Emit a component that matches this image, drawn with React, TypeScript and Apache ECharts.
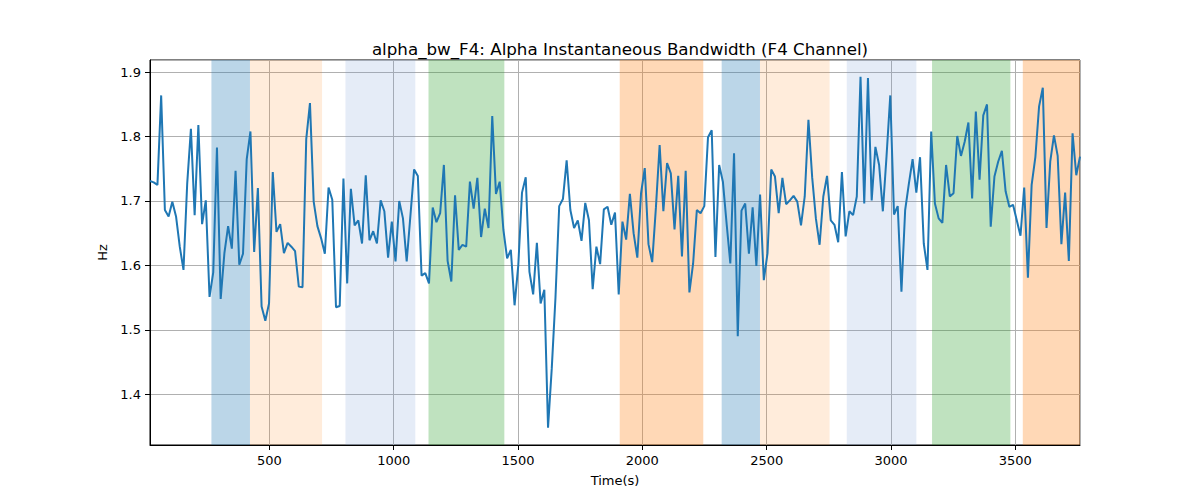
import React, { useEffect, useRef } from "react";
import * as echarts from "echarts";

const TITLE = "alpha_bw_F4: Alpha Instantaneous Bandwidth (F4 Channel)";
const X_NAME = "Time(s)";
const Y_NAME = "Hz";

// Sampling grid of the series (seconds)
const T_START = 20;
const T_END = 3760;

// Hz values, in time order
const values: number[] = [
  1.731, 1.729, 1.725, 1.864, 1.686, 1.676, 1.699, 1.676, 1.629, 1.593,
  1.727, 1.812, 1.678, 1.818, 1.664, 1.701, 1.551, 1.589, 1.783, 1.548,
  1.619, 1.661, 1.626, 1.747, 1.601, 1.618, 1.765, 1.808, 1.621, 1.72,
  1.536, 1.514, 1.541, 1.745, 1.652, 1.664, 1.619, 1.635, 1.629, 1.622,
  1.567, 1.566, 1.796, 1.852, 1.699, 1.661, 1.642, 1.618, 1.721, 1.702,
  1.535, 1.537,
  1.735, 1.572, 1.719, 1.662, 1.67, 1.634, 1.74, 1.639, 1.653, 1.634,
  1.701, 1.684, 1.612, 1.668, 1.606, 1.7, 1.673, 1.606, 1.677, 1.749,
  1.739, 1.584, 1.588, 1.572, 1.69, 1.667, 1.681, 1.756, 1.607, 1.575,
  1.709, 1.624, 1.632, 1.629, 1.73, 1.688, 1.736, 1.644, 1.688, 1.658,
  1.832, 1.711, 1.73, 1.655, 1.611, 1.624, 1.538, 1.6, 1.713, 1.737,
  1.59, 1.555, 1.635, 1.541, 1.562, 1.348, 1.44, 1.55, 1.692, 1.703,
  1.763, 1.686, 1.658, 1.67, 1.638, 1.697, 1.67, 1.563, 1.629, 1.602,
  1.687, 1.691, 1.663, 1.682, 1.555, 1.668, 1.64, 1.711, 1.65, 1.612,
  1.712, 1.751, 1.633, 1.605, 1.69, 1.787, 1.684, 1.759, 1.743, 1.656,
  1.739, 1.614, 1.747, 1.558, 1.603, 1.686, 1.681, 1.692, 1.799, 1.81,
  1.613, 1.756,
  1.73, 1.665, 1.603, 1.774, 1.49, 1.685, 1.696, 1.618, 1.69, 1.599,
  1.71, 1.577, 1.619, 1.749, 1.738, 1.681, 1.736, 1.695, 1.701, 1.708,
  1.699, 1.662, 1.707, 1.826, 1.737, 1.673, 1.632, 1.707, 1.739, 1.67,
  1.663, 1.636, 1.745, 1.645, 1.684, 1.678, 1.707, 1.893, 1.696, 1.891,
  1.701, 1.784, 1.756, 1.684, 1.77, 1.864, 1.679, 1.692, 1.559,
  1.686, 1.727, 1.765, 1.713, 1.768, 1.634, 1.593, 1.808, 1.696, 1.673,
  1.666, 1.756, 1.707, 1.712, 1.801, 1.77, 1.792, 1.822, 1.704, 1.839,
  1.733, 1.833, 1.85, 1.66, 1.738, 1.761, 1.778, 1.715, 1.691, 1.694,
  1.67, 1.646, 1.721, 1.581, 1.725, 1.768, 1.847, 1.876, 1.658, 1.761,
  1.802, 1.77, 1.633, 1.713, 1.607, 1.805, 1.74, 1.769,
];

// Shaded intervals: [start, end, kind]
const bandStarts = [267, 422, 806, 1140, 1909, 2319, 2473, 2822, 3165, 3530];
const bandEnds = [422, 712, 1087, 1445, 2245, 2473, 2753, 3102, 3480, 3760];
const bandKinds = ["blue", "peach", "pale", "green", "orange", "blue", "peach", "pale", "green", "orange"];

const X_MIN = 20;
const X_MAX = 3760;
const Y_MIN = 1.321;
const Y_MAX = 1.919;

const KIND_COLORS: Record<string, string> = {
  blue: "rgba(31,119,180,0.3)",
  peach: "rgba(255,127,14,0.15)",
  pale: "rgba(110,150,210,0.18)",
  green: "rgba(44,160,44,0.3)",
  orange: "rgba(255,127,14,0.3)",
};

const FONT = "DejaVu Sans";

export default function App() {
  const ref = useRef<HTMLDivElement>(null);

  useEffect(() => {
    if (!ref.current) return;
    const chart = echarts.init(ref.current, undefined, { renderer: "svg" });
    const n = values.length;
    const step = (T_END - T_START) / (n - 1);
    const data = values.map((v, i) => [T_START + i * step, v]);

    const areas = bandStarts.map((s, i) => [
      { xAxis: s, itemStyle: { color: KIND_COLORS[bandKinds[i]] } },
      { xAxis: bandEnds[i] },
    ]);

    chart.setOption({
      animation: false,
      title: {
        text: TITLE,
        left: 615,
        top: 35,
        textAlign: "center",
        textStyle: { fontFamily: FONT, fontSize: 16.7, fontWeight: "normal", color: "#000" },
      },
      grid: {
        left: 150,
        right: 120,
        top: 60,
        bottom: 55,
        show: true,
        borderColor: "#000",
        borderWidth: 1,
        backgroundColor: "transparent",
      },
      xAxis: {
        type: "value",
        min: X_MIN,
        max: X_MAX,
        splitNumber: 8,
        name: X_NAME,
        nameLocation: "middle",
        nameGap: 29,
        nameTextStyle: { fontFamily: FONT, fontSize: 13, color: "#000" },
        axisLine: { show: true, lineStyle: { color: "#000", width: 1 } },
        axisTick: { show: true, length: 5, lineStyle: { color: "#000" } },
        axisLabel: {
          showMinLabel: false,
          showMaxLabel: false,
          margin: 9,
          fontFamily: FONT,
          fontSize: 13,
          color: "#000",
          formatter: (v: number) => String(Math.round(v)),
        },
        splitLine: { show: true, lineStyle: { color: "#b0b0b0", width: 1 } },
      },
      yAxis: {
        type: "value",
        min: Y_MIN,
        max: Y_MAX,
        splitNumber: 6,
        name: Y_NAME,
        nameLocation: "middle",
        nameGap: 38,
        nameRotate: 90,
        nameTextStyle: { fontFamily: FONT, fontSize: 13, color: "#000" },
        axisLine: { show: true, lineStyle: { color: "#000", width: 1 } },
        axisTick: { show: true, length: 5, lineStyle: { color: "#000" } },
        axisLabel: {
          showMinLabel: false,
          showMaxLabel: false,
          margin: 9,
          fontFamily: FONT,
          fontSize: 13,
          color: "#000",
          formatter: (v: number) => v.toFixed(1),
        },
        splitLine: { show: true, lineStyle: { color: "#b0b0b0", width: 1 } },
      },
      series: [
        {
          type: "line",
          data,
          showSymbol: false,
          symbol: "none",
          lineStyle: { color: "#1f77b4", width: 2 },
          itemStyle: { color: "#1f77b4" },
          z: 3,
          markArea: {
            silent: true,
            z: 1,
            data: areas,
          },
        },
      ],
    });

    return () => chart.dispose();
  }, []);

  return (
    <div
      ref={ref}
      style={{ position: "absolute", left: 0, top: 0, width: 1200, height: 500, background: "#fff" }}
    />
  );
}
